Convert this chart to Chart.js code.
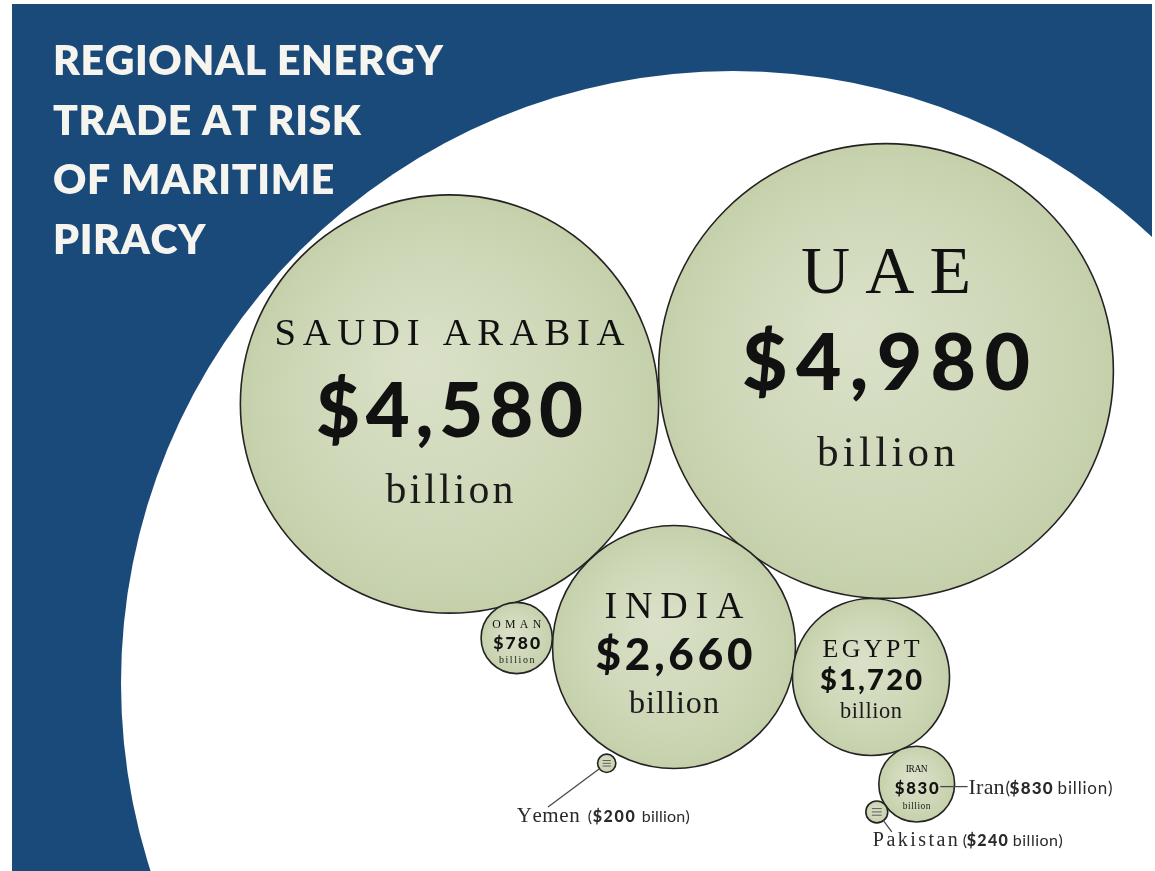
<!DOCTYPE html>
<html>
<head>
<meta charset="utf-8">
<title>Regional Energy Trade at Risk of Maritime Piracy</title>
<script src="https://cdn.jsdelivr.net/npm/chart.js@4.4.1/dist/chart.umd.min.js"></script>
<style>
  html, body { margin: 0; padding: 0; background: #ffffff; }
  #wrap { width: 1155px; height: 871px; position: relative; }
</style>
</head>
<body>
<div id="wrap"><canvas id="chart"></canvas></div>
<script>
// ---------------- data ----------------
const countries   = ['Saudi Arabia', 'UAE', 'India', 'Egypt', 'Oman', 'Iran', 'Yemen', 'Pakistan'];
const bubbleNames = ['SAUDI ARABIA', 'UAE', 'INDIA', 'EGYPT', 'OMAN', 'IRAN', 'Yemen', 'Pakistan'];
const tradeValues = [4580, 4980, 2660, 1720, 780, 830, 200, 240];          // $ billion
const valueLabels = ['$4,580', '$4,980', '$2,660', '$1,720', '$780', '$830', '$200', '$240'];
const unitLabel   = 'billion';
const titleLines  = ['REGIONAL ENERGY', 'TRADE AT RISK', 'OF MARITIME', 'PIRACY'];

// packed-circle layout (units of the hidden layout axes)
const layoutX = [449.5, 886, 674, 871, 516.7, 916.7, 606.7, 876.8];
const layoutY = [404, 371, 647, 677, 638, 784.1, 763.3, 811.9];

// ---------------- styling ----------------
const BILLION_PER_PX = 21.9;            // bubble radius is proportional to value
const SERIF = "'Liberation Serif', 'DejaVu Serif', serif";
const SANS  = "Lato, 'Open Sans', sans-serif";
const BLUE  = '#1a4a7a';

// inside labels, fractions of radius: [nameDy,nameSize,nameW, valDy,valSize,valW, unitDy,unitSize,unitW]
const insideLayout = [
  [-0.282, 0.185, 1.674,  0.158, 0.363, 1.277,  0.473, 0.200, 0.612],
  [-0.343, 0.299, 0.748,  0.084, 0.345, 1.266,  0.418, 0.190, 0.607],
  [-0.239, 0.313, 1.144,  0.189, 0.362, 1.292,  0.543, 0.265, 0.741],
  [-0.255, 0.330, 1.236,  0.166, 0.370, 1.300,  0.520, 0.285, 0.790],
  [-0.267, 0.330, 1.376,  0.317, 0.490, 1.320,  0.690, 0.280, 1.000],
  [-0.310, 0.250, 0.580,  0.270, 0.440, 1.160,  0.650, 0.250, 0.730],
  null, null
];

// callout labels (outside the bubble)
const callouts = {
  5: { mode: 'side',   labelDy: 10, lineDy: 2.5, nameSize: 22, nameW: 36, sans: 17,
       segs: [37, 41, 43, 89, 55] },
  6: { mode: 'below',  labelDx: -90, labelDy: 58.7, endDx: -58.7, endDy: 43.7, nameSize: 21, nameW: 63, sans: 16,
       segs: [71, 76, 42, 125, 48] },
  7: { mode: 'below',  labelDx: -4, labelDy: 34, endDx: 15, endDy: 20, nameSize: 20, nameW: 85, sans: 16,
       segs: [90, 94, 41, 140, 50] }
};

function drawSpaced(c, text, x, y, font, targetW, align) {
  c.font = font;
  const chars = Array.from(text);
  const widths = chars.map(ch => c.measureText(ch).width);
  const sum = widths.reduce((a, b) => a + b, 0);
  let s = chars.length > 1 && targetW ? (targetW - sum) / (chars.length - 1) : 0;
  const total = sum + s * (chars.length - 1);
  let cx = align === 'left' ? x : x - total / 2;
  c.textAlign = 'left';
  chars.forEach((ch, i) => { c.fillText(ch, cx, y); cx += widths[i] + s; });
  return total;
}

const backdrop = {
  id: 'backdrop',
  beforeDraw(chart) {
    const c = chart.ctx, W = chart.width, H = chart.height;
    c.save();
    c.fillStyle = '#ffffff';
    c.fillRect(0, 0, W, H);
    c.fillStyle = BLUE;
    c.fillRect(12, 4, 1140, H - 4);
    c.beginPath();
    c.rect(12, 4, 1140, H - 4);
    c.clip();
    c.beginPath();
    c.arc(733, 683, 612, 0, Math.PI * 2);
    c.fillStyle = '#ffffff';
    c.fill();
    c.restore();

    c.save();
    c.fillStyle = '#f6f4ee';
    c.textBaseline = 'alphabetic';
    const tf = '800 41px ' + SANS;
    c.font = tf;
    const first = Array.from(titleLines[0]);
    const sum = first.reduce((a, ch) => a + c.measureText(ch).width, 0);
    const sp = (390 - sum) / (first.length - 1);
    titleLines.forEach((line, i) => {
      c.font = tf;
      let x = 53;
      Array.from(line).forEach(ch => { c.fillText(ch, x, 75 + i * 59.5); x += c.measureText(ch).width + sp; });
    });
    c.restore();
  }
};

const bubbleLabels = {
  id: 'bubbleLabels',
  afterDatasetsDraw(chart) {
    const c = chart.ctx;
    const meta = chart.getDatasetMeta(0);
    c.save();
    c.textBaseline = 'alphabetic';
    meta.data.forEach((el, i) => {
      const x = el.x, y = el.y, r = el.options.radius;
      const L = insideLayout[i];
      if (L) {
        c.fillStyle = '#111111';
        drawSpaced(c, bubbleNames[i], x, y + L[0] * r, '400 ' + (L[1] * r).toFixed(1) + 'px ' + SERIF, L[2] * r, 'center');
        drawSpaced(c, valueLabels[i], x, y + L[3] * r, '900 ' + (L[4] * r).toFixed(1) + 'px ' + SANS, L[5] * r, 'center');
        c.fillStyle = '#1a1a1a';
        drawSpaced(c, unitLabel, x, y + L[6] * r, '400 ' + (L[7] * r).toFixed(1) + 'px ' + SERIF, L[8] * r, 'center');
      } else {
        c.strokeStyle = '#5a5a5a';
        c.lineWidth = 1;
        [-0.3, 0, 0.3].forEach(f => {
          c.beginPath();
          c.moveTo(x - 0.45 * r, y + f * r);
          c.lineTo(x + 0.45 * r, y + f * r);
          c.stroke();
        });
      }
      const co = callouts[i];
      if (co) {
        let lx, ly;
        c.strokeStyle = '#4a4a4a';
        c.lineWidth = 1.3;
        if (co.mode === 'side') {
          lx = x + r + 14;
          ly = y + co.labelDy;
          c.beginPath();
          c.moveTo(x + 0.62 * r, y + co.lineDy);
          c.lineTo(lx - 1, y + co.lineDy);
          c.stroke();
        } else {
          lx = x + co.labelDx;
          ly = y + co.labelDy;
          const d = Math.hypot(co.endDx, co.endDy);
          c.beginPath();
          c.moveTo(x + co.endDx / d * r, y + co.endDy / d * r);
          c.lineTo(x + co.endDx, y + co.endDy);
          c.stroke();
        }
        c.fillStyle = '#2a2a2a';
        drawSpaced(c, countries[i], lx, ly, '400 ' + co.nameSize + 'px ' + SERIF, co.nameW, 'left');
        c.font = '400 ' + co.sans + 'px ' + SANS;
        c.fillText('(', lx + co.segs[0], ly);
        drawSpaced(c, valueLabels[i], lx + co.segs[1], ly, '900 ' + co.sans + 'px ' + SANS, co.segs[2], 'left');
        drawSpaced(c, unitLabel + ')', lx + co.segs[3], ly, '400 ' + co.sans + 'px ' + SANS, co.segs[4], 'left');
      }
    });
    c.restore();
  }
};

function bubbleFill(ctx) {
  const i = ctx.dataIndex;
  const ch = ctx.chart;
  const xs = ch.scales && ch.scales.x, ys = ch.scales && ch.scales.y;
  if (i === undefined || !xs || !ys) return '#cfd8b8';
  const px = xs.getPixelForValue(layoutX[i]);
  const py = ys.getPixelForValue(layoutY[i]);
  const r = tradeValues[i] / BILLION_PER_PX;
  if (!isFinite(px) || !isFinite(py)) return '#cfd8b8';
  const g = ch.ctx.createRadialGradient(px - 0.15 * r, py - 0.2 * r, 0, px, py, r);
  g.addColorStop(0, '#dae1c9');
  g.addColorStop(0.7, '#cdd7b6');
  g.addColorStop(1, '#c5d0ab');
  return g;
}

new Chart(document.getElementById('chart'), {
  type: 'bubble',
  data: {
    datasets: [{
      label: 'Energy trade at risk ($ billion)',
      data: tradeValues.map((v, i) => ({ x: layoutX[i], y: layoutY[i] })),
      radius: ctx => (ctx.dataIndex === undefined ? 3 : tradeValues[ctx.dataIndex] / BILLION_PER_PX),
      hoverRadius: 0,
      backgroundColor: bubbleFill,
      borderColor: '#232323',
      borderWidth: 1.6,
      clip: false
    }]
  },
  options: {
    responsive: true,
    maintainAspectRatio: false,
    animation: false,
    events: [],
    layout: { padding: 0, autoPadding: false },
    plugins: { legend: { display: false }, tooltip: { enabled: false }, title: { display: false } },
    scales: {
      x: { type: 'linear', display: false, min: 0, max: 1155 },
      y: { type: 'linear', display: false, min: 0, max: 871, reverse: true }
    }
  },
  plugins: [backdrop, bubbleLabels]
});
</script>
</body>
</html>
